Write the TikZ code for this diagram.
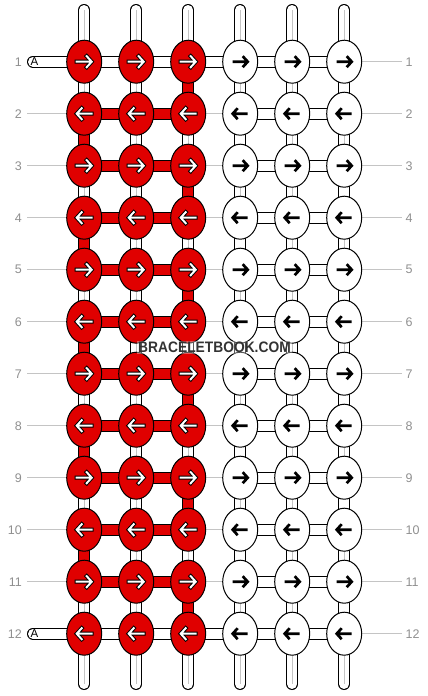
\documentclass[tikz,border=0pt]{standalone}
\usepackage{fontspec}
\setmainfont{Liberation Sans}
\usepackage{tikz}
\usetikzlibrary{shapes.geometric}
\definecolor{knotred}{HTML}{E00000}
\definecolor{guidegray}{HTML}{C4C4C4}
\definecolor{labelgray}{HTML}{8F8F8F}

\begin{document}
\begin{tikzpicture}[
    x=1pt,
    y=-1pt
]

\tikzstyle{tube}=[
    draw=black,
    line width=1pt,
    double=white,
    double distance=10pt
]
\tikzstyle{redtube}=[tube, double=knotred]
\tikzstyle{endtube}=[tube, line cap=round]
\tikzstyle{core}=[draw=guidegray, line width=1.2pt]
\tikzstyle{guide}=[draw=guidegray, line width=1pt]
\tikzstyle{rowlabel}=[
    text=labelgray,
    font=\fontsize{12.5}{12.5}\selectfont,
    inner sep=0pt
]
\tikzstyle{knot}=[
    ellipse,
    draw,
    line width=1pt,
    minimum width=35pt,
    minimum height=43pt,
    inner sep=0pt,
    fill=white
]
\tikzstyle{redknot}=[knot, fill=knotred]
\tikzstyle{arrowrim}=[draw=black, line width=4pt, line cap=rect, line join=miter]
\tikzstyle{arrowwhite}=[draw=white, line width=2pt, line cap=rect, line join=miter]
\tikzstyle{arrowblack}=[draw=black, line width=2.7pt, line join=miter]

\useasboundingbox (0,0) rectangle (428,696);

% knot positions
\foreach \r in {1,...,12} {
  \foreach \c in {1,...,6} {
    \coordinate (p-\r-\c) at ({84.2+52*(\c-1)}, {61.7+52*(\r-1)});
  }
}

% row guides and row numbers
\foreach \r in {1,...,12} {
  \coordinate (gl-\r) at (27, {61.7+52*(\r-1)});
  \coordinate (gr-\r) at (402, {61.7+52*(\r-1)});
  \draw[guide] (gl-\r) -- (gr-\r);
  \node[rowlabel, anchor=east] (nl-\r) at (22, {61.7+52*(\r-1)}) {\r};
  \node[rowlabel, anchor=west] (nr-\r) at (405.5, {61.7+52*(\r-1)}) {\r};
}

% strands at the top and bottom
\foreach \c in {1,...,6} {
  \coordinate (top-\c) at ({84.2+52*(\c-1)}, 10);
  \coordinate (bot-\c) at ({84.2+52*(\c-1)}, 684);
  \draw[endtube] (top-\c) -- (p-1-\c);
  \draw[core] (top-\c) -- (p-1-\c);
  \draw[endtube] (p-12-\c) -- (bot-\c);
  \draw[core] (p-12-\c) -- (bot-\c);
}

% links between rows (0 = strand, 1 = red, 2 = plain)
\foreach \r [evaluate=\r as \n using int(\r+1)] in {1,...,11} {
  \foreach \c in {1,...,6} {
    \pgfmathtruncatemacro\kind{isodd(\r) ? (\c==3 ? 1 : (\c==6 ? 2 : 0)) : (\c==1 ? 1 : (\c==4 ? 2 : 0))}
    \ifcase\kind
      \draw[tube] (p-\r-\c) -- (p-\n-\c);
      \draw[core] (p-\r-\c) -- (p-\n-\c);
    \or
      \draw[redtube] (p-\r-\c) -- (p-\n-\c);
    \or
      \draw[tube] (p-\r-\c) -- (p-\n-\c);
    \fi
  }
}

% links along the rows (0 = white, 1 = red, 2 = none)
\foreach \r in {1,...,12} {
  \foreach \c [evaluate=\c as \m using int(\c+1)] in {1,...,5} {
    \pgfmathtruncatemacro\kind{(\r==1 || \r==12) ? 0 : (\c<3 ? 1 : (\c==3 ? 2 : 0))}
    \ifcase\kind
      \draw[tube] (p-\r-\c) -- (p-\r-\m);
    \or
      \draw[redtube] (p-\r-\c) -- (p-\r-\m);
    \or
    \fi
  }
}

% working strand A
\coordinate (a-1) at (33, 61.7);
\coordinate (a-12) at (33, 633.7);
\draw[endtube] (a-1) -- (p-1-1);
\draw[endtube] (a-12) -- (p-12-1);
\node[anchor=west, inner sep=0pt, font=\fontsize{11.5}{11.5}\selectfont] (la-1) at (30.5, 62) {A};
\node[anchor=west, inner sep=0pt, font=\fontsize{11.5}{11.5}\selectfont] (la-12) at (30.5, 634) {A};

% knots
\foreach \r in {1,...,12} {
  \foreach \c in {1,...,6} {
    \pgfmathsetmacro\dir{isodd(\r) ? 1 : -1}
    \ifnum\c<4
      \node[redknot] (k-\r-\c) at (p-\r-\c) {};
      \begin{scope}[shift={(k-\r-\c.center)}, xscale=\dir]
        \draw[arrowrim] (-7.5,0) -- (6,0) (2.5,5.5) -- (7.5,0) -- (2.5,-5.5);
        \draw[arrowwhite] (-7.5,0) -- (6,0) (2.5,5.5) -- (7.5,0) -- (2.5,-5.5);
      \end{scope}
    \else
      \node[knot] (k-\r-\c) at (p-\r-\c) {};
      \begin{scope}[shift={(k-\r-\c.center)}, xscale=\dir]
        \draw[arrowblack] (-7.5,0) -- (6.5,0) (2.5,5.5) -- (7.5,0) -- (2.5,-5.5);
      \end{scope}
    \fi
  }
}

\node[fill=white, fill opacity=0.35, text opacity=1, text=black!80,
      font=\bfseries\fontsize{13.8}{13.8}\selectfont, inner sep=1pt, yscale=1.1] (mark) at (214.5, 347.5) {BRACELETBOOK.COM};

\end{tikzpicture}
\end{document}
